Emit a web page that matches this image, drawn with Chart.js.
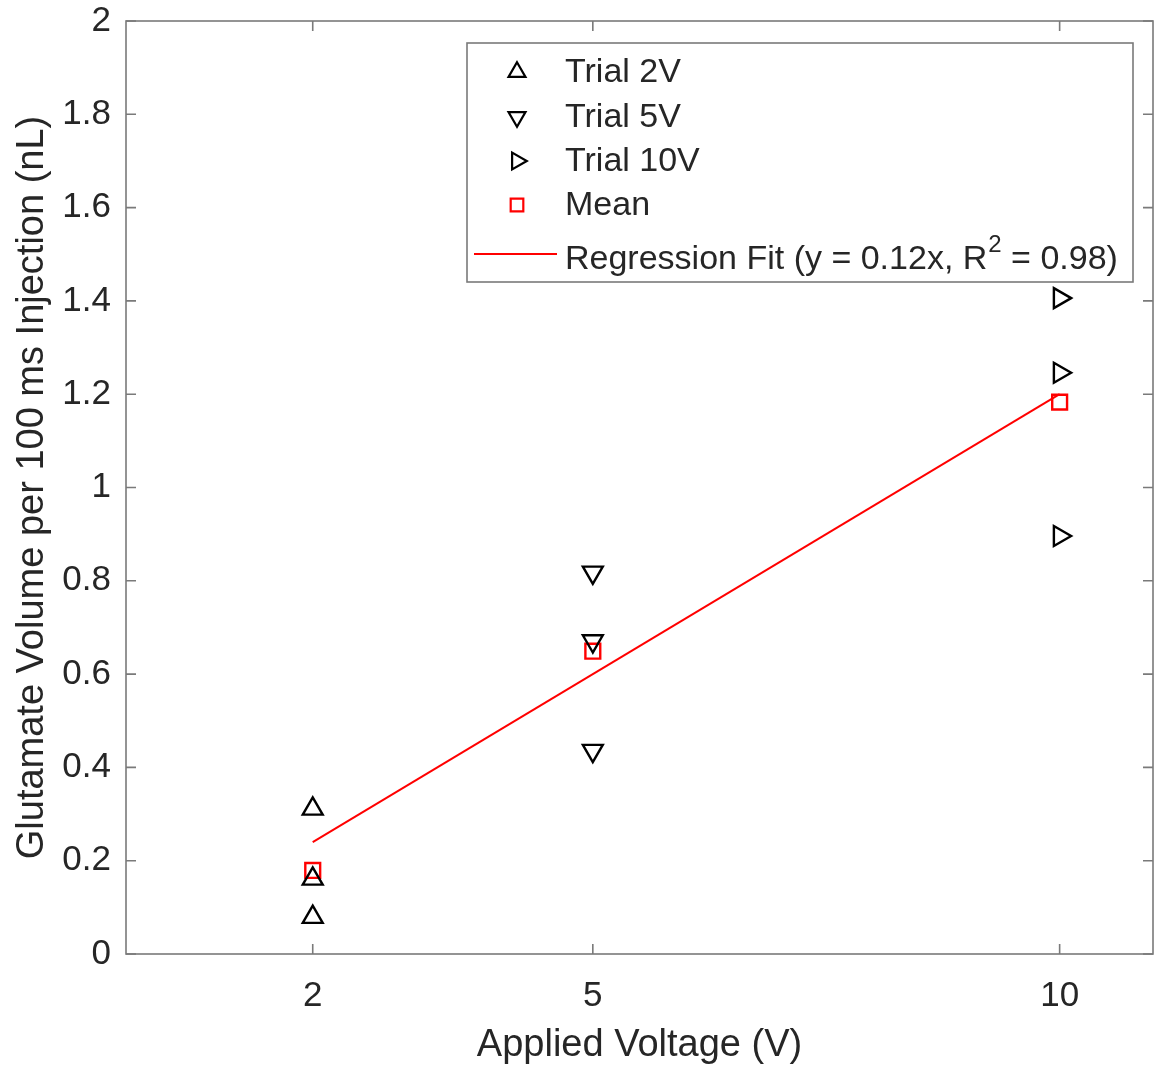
<!DOCTYPE html>
<html>
<head>
<meta charset="utf-8">
<script src="https://cdn.jsdelivr.net/npm/chart.js@4"></script>
<style>
  html, body { margin: 0; padding: 0; background: #ffffff; }
  #wrap { width: 1158px; height: 1068px; position: relative; }
</style>
</head>
<body>
<div id="wrap"><canvas id="c" width="1158" height="1068"></canvas></div>
<script>
// ---- data ----
const xTicks = [2, 5, 10];
const yTicks = [0, 0.2, 0.4, 0.6, 0.8, 1, 1.2, 1.4, 1.6, 1.8, 2];
const voltages = [2, 5, 10];
const trial2V = [0.311, 0.161, 0.079];
const trial5V = [0.818, 0.671, 0.436];
const trial10V = [1.406, 1.246, 0.896];
const meanVolume = [0.179, 0.649, 1.183];
const fitX = [2, 10];
const fitY = [0.24, 1.2];
const legendLabels = ['Trial 2V', 'Trial 5V', 'Trial 10V', 'Mean'];
const fitLabelMain = 'Regression Fit (y = 0.12x, R';
const fitLabelSup = '2';
const fitLabelEnd = ' = 0.98)';
const xTitle = 'Applied Voltage (V)';
const yTitle = 'Glutamate Volume per 100 ms Injection (nL)';

const FONT = '"Liberation Sans", Arial, Helvetica, sans-serif';
const RED = '#ff0000';
const AXIS = '#7a7a7a';
const TEXT = '#262626';

const pts = (xs, ys) => ys.map((v, i) => ({ x: xs[i], y: v }));

const framePlugin = {
  id: 'frame',
  beforeDatasetsDraw(chart) {
    const { ctx, chartArea: a, scales: { x, y } } = chart;
    ctx.save();
    ctx.strokeStyle = AXIS;
    ctx.lineWidth = 1.6;
    ctx.strokeRect(a.left, a.top, a.right - a.left, a.bottom - a.top);
    ctx.beginPath();
    xTicks.forEach(v => {
      const px = x.getPixelForValue(v);
      ctx.moveTo(px, a.bottom); ctx.lineTo(px, a.bottom - 10);
      ctx.moveTo(px, a.top); ctx.lineTo(px, a.top + 10);
    });
    yTicks.forEach(v => {
      const py = y.getPixelForValue(v);
      ctx.moveTo(a.left, py); ctx.lineTo(a.left + 10, py);
      ctx.moveTo(a.right, py); ctx.lineTo(a.right - 10, py);
    });
    ctx.stroke();
    ctx.restore();
  }
};

function drawMarker(ctx, style, rot, r, x, y, color) {
  if (Chart.helpers && Chart.helpers.drawPoint) {
    ctx.strokeStyle = color;
    ctx.fillStyle = 'rgba(0,0,0,0)';
    ctx.lineWidth = 2.2;
    Chart.helpers.drawPoint(ctx, { pointStyle: style, rotation: rot, radius: r, borderWidth: 2.2 }, x, y);
  }
}

const legendPlugin = {
  id: 'boxLegend',
  afterDatasetsDraw(chart) {
    const { ctx } = chart;
    const bx = 467, by = 43, bw = 666, bh = 239;
    ctx.save();
    ctx.fillStyle = '#ffffff';
    ctx.fillRect(bx, by, bw, bh);
    ctx.strokeStyle = AXIS;
    ctx.lineWidth = 1.6;
    ctx.strokeRect(bx, by, bw, bh);
    const rowsY = [72, 117, 161, 205];
    const ds = chart.data.datasets;
    for (let i = 0; i < 4; i++) {
      const d = ds[i];
      drawMarker(ctx, d.pointStyle, d.rotation || 0, d.pointRadius * 0.85, 517, rowsY[i], d.borderColor);
    }
    ctx.fillStyle = TEXT;
    ctx.font = '34px ' + FONT;
    ctx.textBaseline = 'middle';
    ctx.textAlign = 'left';
    for (let i = 0; i < 4; i++) ctx.fillText(legendLabels[i], 565, rowsY[i] + 1);
    // regression row
    ctx.strokeStyle = RED;
    ctx.lineWidth = 2;
    ctx.beginPath(); ctx.moveTo(474, 254); ctx.lineTo(557, 254); ctx.stroke();
    let tx = 565;
    const ry = 260;
    ctx.fillText(fitLabelMain, tx, ry);
    tx += ctx.measureText(fitLabelMain).width + 1;
    ctx.font = '24px ' + FONT;
    ctx.fillText(fitLabelSup, tx, ry - 15);
    tx += ctx.measureText(fitLabelSup).width;
    ctx.font = '34px ' + FONT;
    ctx.fillText(fitLabelEnd, tx, ry);
    ctx.restore();
  }
};

const markerBase = {
  type: 'scatter',
  showLine: false,
  borderColor: '#000000',
  backgroundColor: 'rgba(0,0,0,0)',
  borderWidth: 2.4,
  pointBorderWidth: 2.4,
  pointRadius: 11.5,
  pointHoverRadius: 11.5
};

new Chart(document.getElementById('c'), {
  type: 'scatter',
  data: {
    datasets: [
      Object.assign({}, markerBase, { label: legendLabels[0], data: pts([2, 2, 2], trial2V), pointStyle: 'triangle', rotation: 0, pointRotation: 0 }),
      Object.assign({}, markerBase, { label: legendLabels[1], data: pts([5, 5, 5], trial5V), pointStyle: 'triangle', rotation: 180, pointRotation: 180 }),
      Object.assign({}, markerBase, { label: legendLabels[2], data: pts([10, 10, 10], trial10V), pointStyle: 'triangle', rotation: 90, pointRotation: 90 }),
      Object.assign({}, markerBase, { label: legendLabels[3], data: pts(voltages, meanVolume), pointStyle: 'rect', borderColor: RED, pointRadius: 10.5, pointHoverRadius: 10.5 }),
      { type: 'line', label: 'Regression Fit', data: pts(fitX, fitY), borderColor: RED, borderWidth: 2, pointRadius: 0, fill: false, tension: 0 }
    ]
  },
  options: {
    responsive: false,
    animation: false,
    events: [],
    layout: { autoPadding: false, padding: { top: 21, right: 5, left: 0, bottom: 0 } },
    plugins: { legend: { display: false }, tooltip: { enabled: false } },
    scales: {
      x: {
        type: 'linear',
        min: 0, max: 11,
        afterBuildTicks: s => { s.ticks = xTicks.map(v => ({ value: v })); },
        afterFit: s => { s.height = 114; s.paddingLeft = 0; s.paddingRight = 0; },
        grid: { display: false, drawTicks: false },
        border: { display: false },
        ticks: { color: TEXT, font: { family: FONT, size: 35 }, padding: 21, maxRotation: 0, autoSkip: false, callback: v => String(v) },
        title: { display: true, text: xTitle, color: TEXT, font: { family: FONT, size: 38 }, padding: { top: 0, bottom: 0 } }
      },
      y: {
        type: 'linear',
        min: 0, max: 2,
        afterBuildTicks: s => { s.ticks = yTicks.map(v => ({ value: v })); },
        afterFit: s => { s.width = 126; s.paddingTop = 0; s.paddingBottom = 0; },
        grid: { display: false, drawTicks: false },
        border: { display: false },
        ticks: { color: TEXT, font: { family: FONT, size: 35 }, padding: 15, autoSkip: false, callback: v => String(Number(v.toFixed(1))) },
        title: { display: true, text: yTitle, color: TEXT, font: { family: FONT, size: 38 }, padding: { top: 10, bottom: 0 } }
      }
    }
  },
  plugins: [framePlugin, legendPlugin]
});
</script>
</body>
</html>
